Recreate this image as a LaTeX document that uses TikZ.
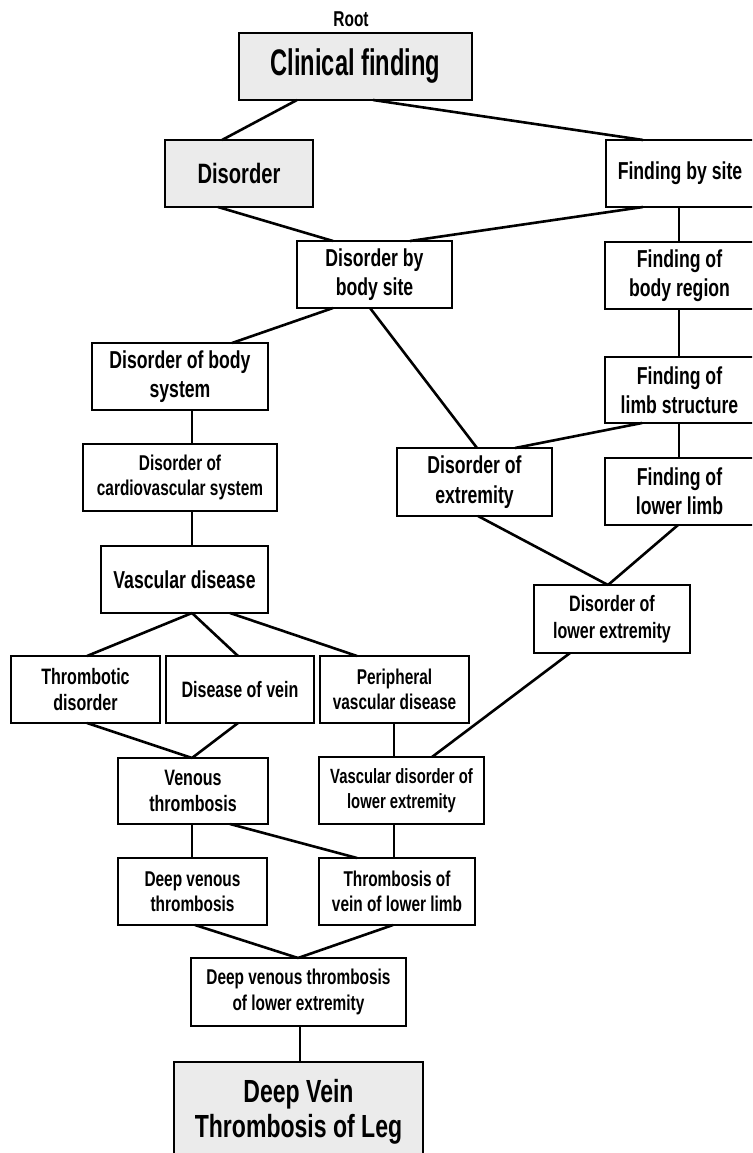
\documentclass[tikz,border=0pt]{standalone}
\usepackage{fontspec}
\newfontfamily\nar{Liberation Sans Bold}[FakeStretch=0.72]
\newfontfamily\narx{Liberation Sans Bold}[FakeStretch=0.64]

\tikzset{
  box/.style={draw, line width=2.8pt, inner sep=0pt, outer sep=0pt,
              align=center, fill=white},
  gbox/.style={box, fill=black!8},
  link/.style={line width=2.6pt},
  sz/.style 2 args={minimum width=#1, minimum height=#2},
  big/.style={font=\nar\fontsize{24.5}{29.4}\selectfont},
  mid/.style={font=\nar\fontsize{22.3}{26.8}\selectfont},
  sml/.style={font=\nar\fontsize{21.4}{25.2}\selectfont},
}

\begin{document}
\begin{tikzpicture}[x=1pt, y=-1pt]
\useasboundingbox (0,0) rectangle (752,1153);
\clip (0,0) rectangle (752,1153);

% ---- nodes ----
\node[font=\nar\fontsize{21.5}{25}\selectfont] (root) at (351,19) {Root};
\node[gbox, sz={233}{67}, font=\narx\fontsize{37}{44}\selectfont] (cf) at (355.5,66.5) {Clinical finding};
\node[gbox, sz={148}{67}, font=\nar\fontsize{28}{33}\selectfont] (dis) at (239,173.5) {Disorder};
\node[box, sz={148}{67}, big] (fbs) at (680,173.5) {Finding by site};
\node[box, sz={155}{67}, big] (dbs) at (374.5,274.5) {Disorder by\\body site};
\node[box, sz={149}{67}, big] (fbr) at (679.5,275.5) {Finding of\\body region};
\node[box, sz={176}{67}, big] (dbsys) at (180,376.5) {Disorder of body\\system};
\node[box, sz={149}{66}, big] (fls) at (679.5,390) {Finding of\\limb structure};
\node[box, sz={194}{67}, sml] (dcv) at (180,477.5) {Disorder of\\cardiovascular system};
\node[box, sz={155}{68}, big] (dext) at (474.5,482) {Disorder of\\extremity};
\node[box, sz={149}{67}, big] (fll) at (679.5,491.5) {Finding of\\lower limb};
\node[box, sz={167}{67}, big] (vd) at (184.5,579.5) {Vascular disease};
\node[box, sz={156}{68}, mid] (dle) at (612,619) {Disorder of\\lower extremity};
\node[box, sz={149}{67}, mid] (td) at (85.5,689.5) {Thrombotic\\disorder};
\node[box, sz={148}{67}, mid] (dov) at (240,689.5) {Disease of vein};
\node[box, sz={149}{67}, sml] (pvd) at (394.5,689.5) {Peripheral\\vascular disease};
\node[box, sz={150}{66}, mid] (vt) at (193,791) {Venous\\thrombosis};
\node[box, sz={165}{67}, font=\nar\fontsize{20.6}{24.8}\selectfont] (vdle) at (401.5,790.5) {Vascular disorder of\\lower extremity};
\node[box, sz={149}{67}, sml] (dvt) at (192.5,891.5) {Deep venous\\thrombosis};
\node[box, sz={156}{67}, sml] (tvll) at (397,891.5) {Thrombosis of\\vein of lower limb};
\node[box, sz={215}{68}, sml] (dvtle) at (298.5,992) {Deep venous thrombosis\\of lower extremity};
\node[gbox, sz={249}{100}, font=\nar\fontsize{32}{35}\selectfont] (dvtl) at (298.5,1112) {Deep Vein\\Thrombosis of Leg};

% ---- connectors ----
\draw[link] ([xshift=58]cf.south west) -- ([xshift=57]dis.north west);
\draw[link] ([xshift=134]cf.south west) -- ([xshift=37]fbs.north west);
\draw[link] ([xshift=53]dis.south west) -- ([xshift=36]dbs.north west);
\draw[link] ([xshift=37]fbs.south west) -- ([xshift=113]dbs.north west);
\draw[link] ([xshift=73]fbs.south west) -- ([xshift=74]fbr.north west);
\draw[link] ([xshift=36]dbs.south west) -- ([xshift=140]dbsys.north west);
\draw[link] ([xshift=73]dbs.south west) -- ([xshift=80]dext.north west);
\draw[link] ([xshift=74]fbr.south west) -- ([xshift=74]fls.north west);
\draw[link] ([xshift=37]fls.south west) -- ([xshift=118]dext.north west);
\draw[link] ([xshift=74]fls.south west) -- ([xshift=74]fll.north west);
\draw[link] ([xshift=100]dbsys.south west) -- ([xshift=109]dcv.north west);
\draw[link] ([xshift=109]dcv.south west) -- ([xshift=91]vd.north west);
\draw[link] ([xshift=81]dext.south west) -- ([xshift=74]dle.north west);
\draw[link] ([xshift=73]fll.south west) -- ([xshift=74]dle.north west);
\draw[link] ([xshift=91]vd.south west) -- ([xshift=76]td.north west);
\draw[link] ([xshift=91]vd.south west) -- ([xshift=72]dov.north west);
\draw[link] ([xshift=129]vd.south west) -- ([xshift=37]pvd.north west);
\draw[link] ([xshift=76]td.south west) -- ([xshift=74]vt.north west);
\draw[link] ([xshift=72]dov.south west) -- ([xshift=74]vt.north west);
\draw[link] ([xshift=74]pvd.south west) -- ([xshift=75]vdle.north west);
\draw[link] ([xshift=36]dle.south west) -- ([xshift=113]vdle.north west);
\draw[link] ([xshift=74]vt.south west) -- ([xshift=74]dvt.north west);
\draw[link] ([xshift=112]vt.south west) -- ([xshift=38]tvll.north west);
\draw[link] ([xshift=75]vdle.south west) -- ([xshift=75]tvll.north west);
\draw[link] ([xshift=77]dvt.south west) -- ([xshift=107]dvtle.north west);
\draw[link] ([xshift=74]tvll.south west) -- ([xshift=107]dvtle.north west);
\draw[link] ([xshift=109]dvtle.south west) -- ([xshift=126]dvtl.north west);
\end{tikzpicture}
\end{document}
